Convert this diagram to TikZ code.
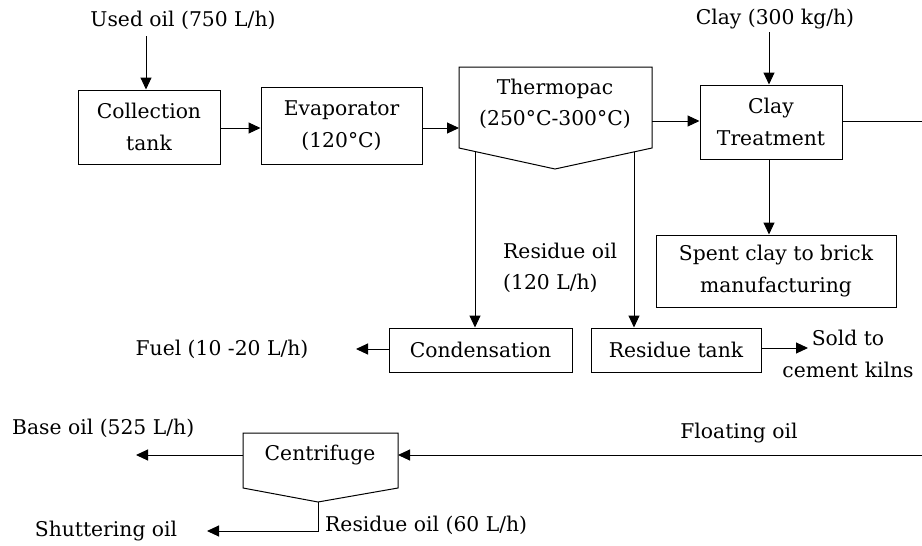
\documentclass[tikz,border=0pt]{standalone}
\usepackage{fontspec}
\setmainfont{DejaVu Serif}
\usetikzlibrary{arrows.meta}
\begin{document}
\begin{tikzpicture}[x=1pt,y=-1pt,
  every node/.style={font=\fontsize{20.3}{31.5}\selectfont, inner sep=0pt},
  line/.style={line width=1pt},
  flow/.style={line, -{Triangle[length=12pt,width=11pt]}},
  unit/.style={draw, line width=1pt, align=center, minimum width=#1},
  lbl/.style={align=center}]
\useasboundingbox (0,0) rectangle (922,546);
\clip (0,0) rectangle (922,546);

% feeds
\node[lbl] (usedoil) at (183,20) {Used oil (750 L/h)};
\node[lbl] (clay) at (775,19) {Clay (300 kg/h)};

% process units
\node[unit=142pt, minimum height=74pt] (coll) at (149,127) {Collection\\tank};
\node[unit=161pt, minimum height=77pt] (evap) at (341.5,125.5) {Evaporator\\(120°C)};
\node[unit=142pt, minimum height=74pt] (claytr) at (771,122) {Clay\\Treatment};
\node[unit=240pt, minimum height=72pt] (spent) at (776,271) {Spent clay to brick\\manufacturing};
\node[unit=183pt, minimum height=44pt] (cond) at (480.5,350) {Condensation};
\node[unit=170pt, minimum height=44pt] (restank) at (676,350) {Residue tank};

% thermopac (pointed bottom)
\coordinate (tpA) at (459,67);
\coordinate (tpB) at (652,67);
\coordinate (tpC) at (652,148);
\coordinate (tpD) at (555,169);
\coordinate (tpE) at (459,148);
\draw[line] (tpA) -- (tpB) -- (tpC) -- (tpD) -- (tpE) -- cycle;
\node[lbl] (thermo) at (555,104) {Thermopac\\(250°C-300°C)};
\coordinate (tpOutL) at (475,151.5);
\coordinate (tpOutR) at (634,152);
\coordinate (tpIn) at (459,128);
\coordinate (tpOut) at (652,121);

% centrifuge (pointed bottom)
\coordinate (cfA) at (243,433);
\coordinate (cfB) at (398,433);
\coordinate (cfC) at (398,488);
\coordinate (cfD) at (318,502);
\coordinate (cfE) at (243,488);
\draw[line] (cfA) -- (cfB) -- (cfC) -- (cfD) -- (cfE) -- cycle;
\node[lbl] (centri) at (320,455) {Centrifuge};
\coordinate (cfIn) at (398,455);
\coordinate (cfOut) at (243,455);

% products and stream labels
\node[align=left, anchor=west] (resoil) at (503,268) {Residue oil\\(120 L/h)};
\node[lbl] (sold) at (848,354) {Sold to\\cement kilns};
\node[lbl] (fuel) at (222,349) {Fuel (10 -20 L/h)};
\node[lbl] (floating) at (739,433) {Floating oil};
\node[anchor=west] (baseoil) at (12,428) {Base oil (525 L/h)};
\node[lbl] (shutter) at (106,531) {Shuttering oil};
\node[anchor=west] (resoil60) at (325,525) {Residue oil (60 L/h)};

% connector end points
\coordinate (usedEnd) at (146,36);
\coordinate (clayEnd) at (769,32);
\coordinate (fuelTip) at (356,349);
\coordinate (soldTip) at (808,348);
\coordinate (baseTip) at (136,455);
\coordinate (shutTip) at (207,531);
\coordinate (shutBend) at (318,531);
\coordinate (loopA) at (940,121);
\coordinate (loopB) at (940,455);

% main flow
\draw[flow] (usedEnd) -- (usedEnd |- coll.north);
\draw[flow] (coll.east |- 0,128) -- (evap.west |- 0,128);
\draw[flow] (evap.east |- tpIn) -- (tpIn);
\draw[flow] (tpOut) -- (claytr.west |- tpOut);
\draw[flow] (clayEnd) -- (clayEnd |- claytr.north);
\draw[flow] (claytr.south -| clayEnd) -- (spent.north -| clayEnd);
\draw[flow] (tpOutL) -- (tpOutL |- cond.north);
\draw[flow] (tpOutR) -- (tpOutR |- restank.north);
\draw[flow] (cond.west |- fuelTip) -- (fuelTip);
\draw[flow] (restank.east |- soldTip) -- (soldTip);
\draw[flow] (claytr.east |- tpOut) -- (loopA) -- (loopB) -- (cfIn);
\draw[flow] (cfOut) -- (baseTip);
\draw[flow] (cfD) -- (shutBend) -- (shutTip);
\end{tikzpicture}
\end{document}
